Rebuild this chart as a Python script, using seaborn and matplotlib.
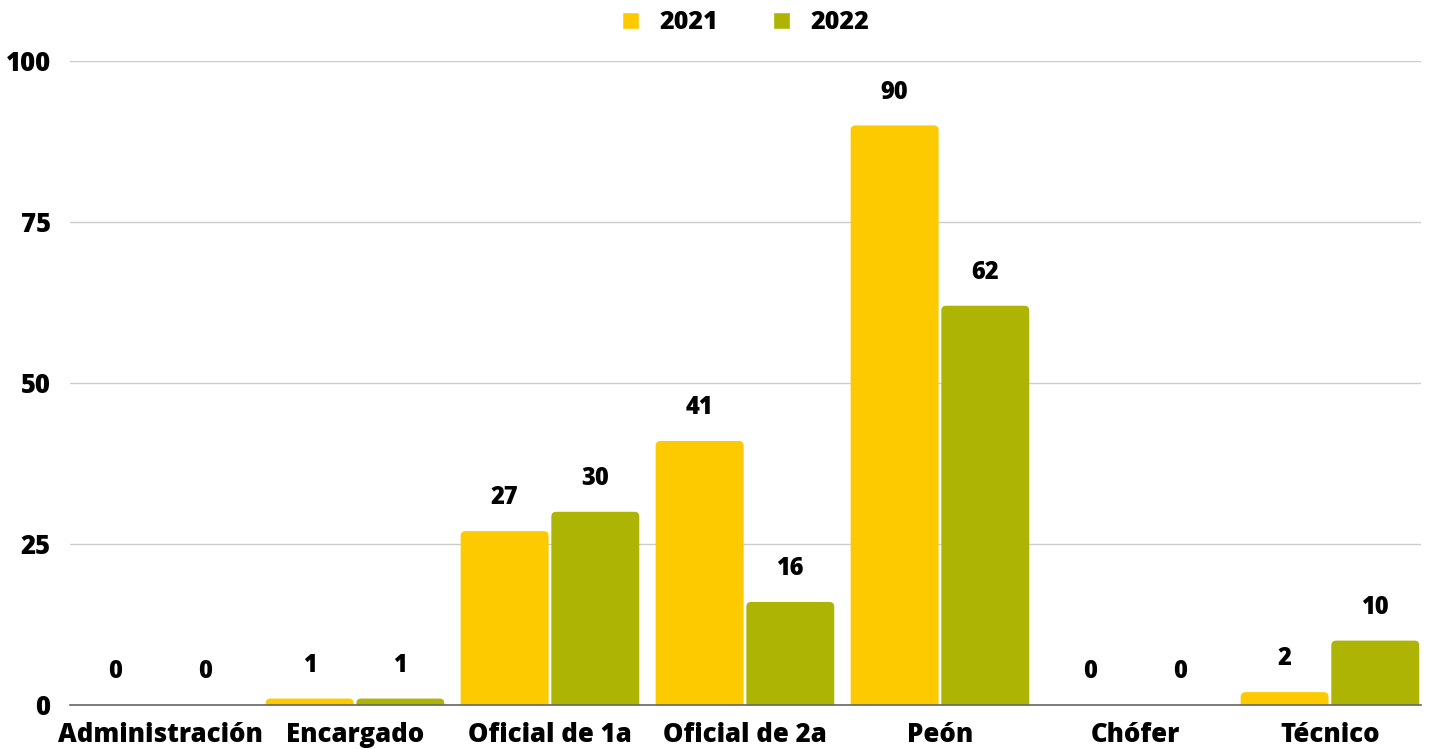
import numpy as np
import pandas as pd
import matplotlib.pyplot as plt
import seaborn as sns
from matplotlib.patches import FancyBboxPatch

categories = ["Administración", "Encargado", "Oficial de 1a", "Oficial de 2a", "Peón", "Chófer", "Técnico"]
values_2021 = [0, 1, 27, 41, 90, 0, 2]
values_2022 = [0, 1, 30, 16, 62, 0, 10]
years = ["2021", "2022"]
colors = ["#FDCA00", "#ADB404"]

df = pd.DataFrame({
    "puesto": categories * 2,
    "valor": values_2021 + values_2022,
    "anio": [years[0]] * len(categories) + [years[1]] * len(categories),
})

sns.set_theme(style="white")
plt.rcParams["font.family"] = ["Open Sans", "DejaVu Sans"]
plt.rcParams["font.weight"] = 800
plt.rcParams["text.color"] = "black"
plt.rcParams["xtick.color"] = "black"
plt.rcParams["ytick.color"] = "black"

fig = plt.figure(figsize=(14.33, 7.49), dpi=100)
ax = fig.add_axes([70 / 1433, 1 - 705 / 749, (1421 - 70) / 1433, (705 - 61) / 749])

sns.barplot(data=df, x="puesto", y="valor", hue="anio", palette=colors,
            width=0.93, gap=0.03, ax=ax, saturation=1)

for c in ax.containers:
    ax.bar_label(c, padding=15, fontsize=17, fontweight=800, color="black")

ax.set_ylim(0, 100)
ax.set_yticks([0, 25, 50, 75, 100])
ax.set_xlim(-0.4615, 6.467)

# round the top corners of the bars (bottom corners hidden below the baseline)
r = 0.025
aspect = 30.0
for c in ax.containers:
    for p in c.patches:
        h = p.get_height()
        if h <= 0:
            continue
        x, w = p.get_x(), p.get_width()
        fb = FancyBboxPatch((x, -r * aspect), w, h + r * aspect,
                            boxstyle=f"round,pad=0,rounding_size={r}",
                            mutation_aspect=aspect,
                            facecolor=p.get_facecolor(), edgecolor="none")
        p.set_visible(False)
        ax.add_patch(fb)

ax.yaxis.grid(True, color="#cccccc", linewidth=1)
ax.set_axisbelow(True)
for s in ["top", "right", "left"]:
    ax.spines[s].set_visible(False)
ax.spines["bottom"].set_color("#666666")
ax.spines["bottom"].set_linewidth(1.2)
ax.spines["bottom"].set_zorder(5)
ax.tick_params(axis="both", length=0, labelsize=18.5)
ax.tick_params(axis="y", pad=14)
ax.tick_params(axis="x", pad=12)
for t in ax.get_xticklabels() + ax.get_yticklabels():
    t.set_fontweight(800)
ax.set_xlabel("")
ax.set_ylabel("")

leg = ax.legend(loc="lower center", bbox_to_anchor=(0.5, 1.005), ncol=2, frameon=False,
                handlelength=0.7, handleheight=0.7, columnspacing=2.2, fontsize=18)
for t in leg.get_texts():
    t.set_fontweight(800)

fig.savefig("out.png", dpi=100)
